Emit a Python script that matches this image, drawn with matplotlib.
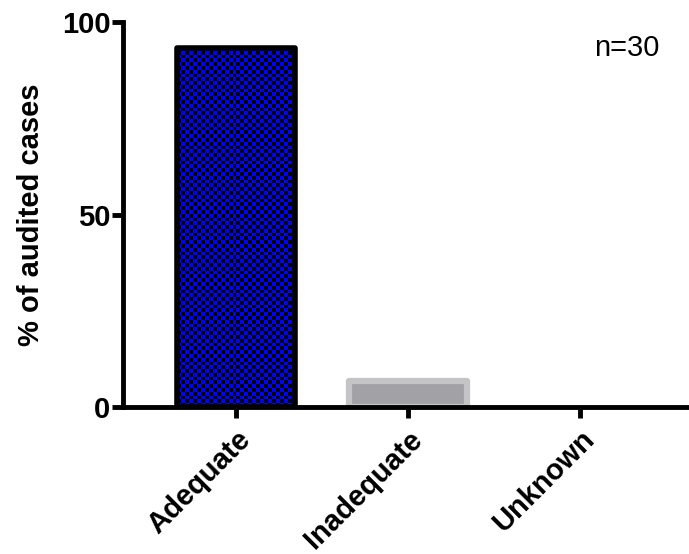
import numpy as np
import matplotlib.pyplot as plt

categories = ['Adequate', 'Inadequate', 'Unknown']
percent = [93.3, 6.7, 0.0]
n_label = 'n=30'

plt.rcParams['font.family'] = ['Liberation Sans', 'DejaVu Sans']

fig = plt.figure(figsize=(6.89, 5.54), dpi=100)
ax = fig.add_axes([0.1785, 0.2653, 0.8215, 0.6950])

x = np.arange(len(categories))
bars = ax.bar(x, percent, width=0.69, zorder=2)

# adequate: blue/black checkerboard with a thick black edge
b0 = bars[0]
b0.set_facecolor('none')
b0.set_edgecolor('black')
b0.set_linewidth(4.0)
b0.set_joinstyle('round')
b0.set_zorder(3)
x0, y0 = b0.get_x(), b0.get_y()
w0, h0 = b0.get_width(), b0.get_height()
nx, ny = 30, 95
checker = (np.indices((ny, nx)).sum(axis=0) % 2)
img = ax.imshow(checker, cmap=plt.matplotlib.colors.ListedColormap(['#0000ff', '#000000']),
                extent=(x0, x0 + w0, y0, y0 + h0), aspect='auto', interpolation='nearest',
                zorder=2)
img.set_clip_path(b0)

# inadequate: grey fill with lighter grey edge
b1 = bars[1]
b1.set_facecolor('#a2a1a6')
b1.set_edgecolor('#c4c4c6')
b1.set_linewidth(4.5)
b1.set_joinstyle('round')

ax.set_xlim(-0.657, 2.634)
ax.set_ylim(0, 100)
ax.set_yticks([0, 50, 100])
ax.set_xticks(x)
ax.set_xticklabels(categories, rotation=45, ha='right', rotation_mode='anchor',
                   fontsize=21, fontweight='bold')
for lab in ax.get_yticklabels():
    lab.set_fontsize(21)
    lab.set_fontweight('bold')

ax.spines['top'].set_visible(False)
ax.spines['right'].set_visible(False)
ax.spines['left'].set_linewidth(3.5)
ax.spines['bottom'].set_linewidth(3.5)
ax.spines['left'].set_zorder(5)
ax.spines['bottom'].set_zorder(5)
ax.tick_params(axis='both', width=3.5, length=8, pad=1)
ax.tick_params(axis='x', pad=5)

ax.set_ylabel('% of audited cases', fontsize=21, fontweight='bold', labelpad=12)
ax.text(0.89, 0.932, n_label, transform=ax.transAxes, ha='center', va='center', fontsize=21)

fig.savefig('out.png', dpi=100)
